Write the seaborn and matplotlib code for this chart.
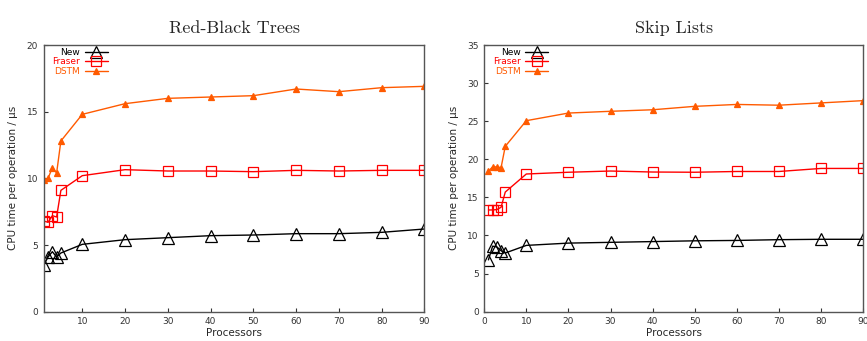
import numpy as np
import pandas as pd
import matplotlib
matplotlib.use("Agg")
import matplotlib.pyplot as plt
import seaborn as sns

# processor counts
procs = [1, 2, 3, 4, 5, 10, 20, 30, 40, 50, 60, 70, 80, 90]

# Red-Black Trees
rb_new = [3.5, 4.1, 4.5, 4.1, 4.4, 5.05, 5.4, 5.55, 5.7, 5.75, 5.85, 5.85, 5.95, 6.2]
rb_fraser = [6.8, 6.7, 7.2, 7.1, 9.1, 10.2, 10.65, 10.55, 10.55, 10.5, 10.6, 10.55, 10.6, 10.6]
rb_dstm = [9.9, 10.0, 10.8, 10.4, 12.8, 14.8, 15.6, 16.0, 16.1, 16.2, 16.7, 16.5, 16.8, 16.9]

# Skip Lists
sl_new = [6.8, 8.6, 8.5, 8.0, 7.7, 8.7, 9.0, 9.1, 9.2, 9.3, 9.35, 9.45, 9.5, 9.5]
sl_fraser = [13.35, 13.35, 13.4, 13.7, 15.7, 18.07, 18.3, 18.46, 18.33, 18.3, 18.4, 18.4, 18.8, 18.8]
sl_dstm = [18.45, 19.0, 19.0, 18.9, 21.7, 25.07, 26.07, 26.3, 26.5, 26.95, 27.2, 27.1, 27.4, 27.7]

series = ["New", "Fraser", "DSTM"]
colors = {"New": "black", "Fraser": "#ff0000", "DSTM": "#ff5a00"}
markers = {"New": "^", "Fraser": "s", "DSTM": "^"}
msizes = {"New": 9, "Fraser": 6.5, "DSTM": 4}
filled = {"New": False, "Fraser": False, "DSTM": True}


def to_frame(new, fraser, dstm):
    df = pd.DataFrame({"Processors": procs, "New": new, "Fraser": fraser, "DSTM": dstm})
    return df.melt(id_vars="Processors", var_name="impl", value_name="time")


sns.set_style("white")
plt.rcParams["font.family"] = ["DejaVu Sans"]

fig = plt.figure(figsize=(8.67, 3.41), dpi=100)
ax1 = fig.add_axes([0.0505, 0.086, 0.439, 0.782])
ax2 = fig.add_axes([0.5585, 0.086, 0.437, 0.782])

panels = [
    (ax1, to_frame(rb_new, rb_fraser, rb_dstm), "Red-Black Trees", (1, 90), (0, 20), [0, 5, 10, 15, 20]),
    (ax2, to_frame(sl_new, sl_fraser, sl_dstm), "Skip Lists", (0, 90), (0, 35), [0, 5, 10, 15, 20, 25, 30, 35]),
]

for ax, df, title, xl, yl, yt in panels:
    for name in series:
        sub = df[df["impl"] == name]
        c = colors[name]
        sns.lineplot(data=sub, x="Processors", y="time", ax=ax, color=c, lw=1.0,
                     marker=markers[name], markersize=msizes[name],
                     markerfacecolor=c if filled[name] else "none",
                     markeredgecolor=c, markeredgewidth=0.9, label=name)
    ax.set_xlim(*xl)
    ax.set_ylim(*yl)
    ax.set_xticks([10, 20, 30, 40, 50, 60, 70, 80, 90] if xl[0] == 1 else [0, 10, 20, 30, 40, 50, 60, 70, 80, 90])
    ax.set_yticks(yt)
    ax.tick_params(direction="in", length=3, width=0.8, labelsize=6.5, colors="#333333",
                   bottom=True, left=True, pad=4)
    for s in ax.spines.values():
        s.set_color("#555555")
        s.set_linewidth(1.0)
    ax.set_xlabel("Processors", fontsize=7.5, labelpad=1)
    ax.set_ylabel("CPU time per operation / µs", fontsize=7.5, labelpad=6)
    ax.set_title(title, fontsize=13, family="cmr10", pad=9)
    leg = ax.legend(loc="upper left", markerfirst=False, frameon=False, fontsize=6.5,
                    handlelength=2.6, handletextpad=0.5, labelspacing=0.05,
                    borderaxespad=0.2, bbox_to_anchor=(0.008, 1.01))
    for txt, name in zip(leg.get_texts(), series):
        txt.set_color(colors[name])
        txt.set_ha("right")

fig.savefig("out.png", dpi=100)
